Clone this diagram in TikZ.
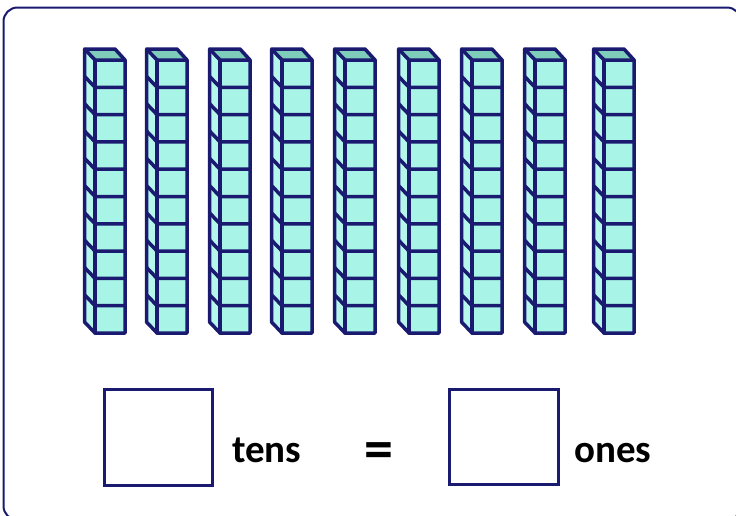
\documentclass[tikz,border=0pt]{standalone}
\usepackage{fontspec}
\setmainfont{Carlito}
\definecolor{navy}{RGB}{26,26,112}
\definecolor{frontc}{RGB}{168,245,232}
\definecolor{topc}{RGB}{125,205,186}
\definecolor{sidec}{RGB}{182,247,236}
\begin{document}
\begin{tikzpicture}[x=1pt,y=-1pt,
  rodline/.style={draw=navy,line width=3.5pt,line join=round,line cap=round},
  ansbox/.style={draw=navy,line width=3pt,inner sep=0pt,outer sep=0pt},
  lbl/.style={font=\fontsize{39}{39}\selectfont\bfseries,anchor=base west,inner sep=0pt},
  eqlbl/.style={font=\fontsize{58}{58}\selectfont\bfseries,anchor=center,inner sep=0pt}]
\useasboundingbox (0,0) rectangle (736,515);
\begin{scope}
\clip (0,0) rectangle (736,515);
\draw[navy,line width=2pt,rounded corners=14pt] (3.5,7.5) rectangle (741,520);
\end{scope}
\foreach \x in {83,145,208,270,333,397,460,523,592}{
  \fill[topc] (\x+1.5,49) -- (\x+32,49) -- (\x+42,60) -- (\x+12,60) -- cycle;
  \fill[sidec] (\x+1.5,49) -- (\x+12,60) -- (\x+12,333) -- (\x+1.5,322) -- cycle;
  \fill[frontc] (\x+12,60) rectangle (\x+42,333);
  \foreach \k in {1,...,9}{
    \draw[rodline] (\x+1.5,49+27.3*\k) -- (\x+12,60+27.3*\k) -- (\x+42,60+27.3*\k);
  }
  \draw[rodline] (\x+1.5,49) -- (\x+32,49) -- (\x+42,60) -- (\x+42,333) -- (\x+12,333) -- (\x+1.5,322) -- cycle;
  \draw[rodline] (\x+1.5,49) -- (\x+12,60) -- (\x+42,60);
  \draw[rodline] (\x+12,60) -- (\x+12,333);
}
\node[ansbox,minimum width=108.5pt,minimum height=96pt] (tensbox) at (158.25,437) {};
\node[ansbox,minimum width=109pt,minimum height=94.5pt] (onesbox) at (504,436.75) {};
\node[lbl] (tens) at (232,462) {tens};
\node[eqlbl] (eq) at (379,456) {=};
\node[lbl] (ones) at (574,462) {ones};
\end{tikzpicture}
\end{document}
